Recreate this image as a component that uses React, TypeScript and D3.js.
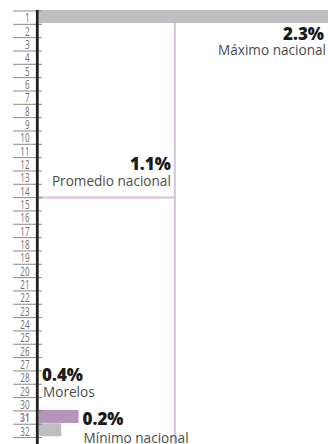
import React from "react";
import * as d3 from "d3";

const ranks = ["1","2","3","4","5","6","7","8","9","10","11","12","13","14","15","16","17","18","19","20","21","22","23","24","25","26","27","28","29","30","31","32"];
const barRanks = ["1", "31", "32"];
const barValues = [2.34, 0.32, 0.18];
const barKinds = ["max", "state", "min"];
const nationalAverage = 1.1;
const averageRank = "14";
const highlightRank = "31";
const maxLabel = ["2.3%", "Máximo nacional"];
const avgLabel = ["1.1%", "Promedio nacional"];
const stateLabel = ["0.4%", "Morelos"];
const minLabel = ["0.2%", "Mínimo nacional"];

const W = 328;
const H = 444;
const GRAY = "#bfbfc1";
const PURPLE = "#b595b9";
const AVG = "#dcc8df";
const FONT = "'Open Sans', 'Noto Sans', sans-serif";

export default function App() {
  const x = d3.scaleLinear().domain([0, d3.max(barValues) as number]).range([39, W]);
  const y = d3.scaleBand<string>().domain(ranks).range([10, 10 + 32 * 13.33]).paddingInner(0);
  const bw = y.bandwidth();
  const avgX = x(nationalAverage);
  const avgY = (y(averageRank) as number) + bw + 1;
  const bars = barRanks.map((r, i) => ({ r, v: barValues[i], k: barKinds[i] }));
  const stateBarEnd = x(barValues[1]);

  return (
    <svg width={W} height={H} style={{ position: "fixed", left: 0, top: 0, background: "#fff" }}>
      {/* average lines */}
      <line x1={avgX} x2={avgX} y1={y("1") as number} y2={H} stroke={AVG} strokeWidth={2.2} />
      <line x1={39} x2={avgX + 1} y1={avgY} y2={avgY} stroke={AVG} strokeWidth={2.5} />
      {/* bars */}
      {bars.map((b) => (
        <rect key={b.r} x={x(0)} y={y(b.r) as number} width={x(b.v) - x(0)} height={bw - 0.3}
          fill={b.k === "state" ? PURPLE : GRAY} />
      ))}
      {/* tick lines */}
      {ranks.concat(["end"]).map((r, i) => {
        const yy = 10 + i * bw + 1;
        return <line key={"t" + i} x1={13} x2={42} y1={yy} y2={yy} stroke="#8a8a8a" strokeWidth={1} />;
      })}
      {/* rank labels */}
      {ranks.map((r) => {
        const yy = (y(r) as number) + bw - 1;
        const hl = r === highlightRank;
        return (
          <text key={"l" + r} transform={`translate(29.5,${yy}) scale(0.62,1)`} textAnchor="end"
            fontFamily={FONT} fontSize={13} fontWeight={hl ? 700 : 400} fill={hl ? "#a07aa6" : "#707070"}>
            {r}
          </text>
        );
      })}
      {/* axis */}
      <line x1={37.3} x2={37.3} y1={10} y2={H} stroke="#231f20" strokeWidth={2.8} />
      {/* annotations */}
      <text x={324} y={40} textAnchor="end" fontFamily={FONT} fontSize={17} fontWeight={800} fill="#1a1a1a">{maxLabel[0]}</text>
      <text x={326} y={55} textAnchor="end" fontFamily={FONT} fontSize={13.6} fill="#4d4d4d">{maxLabel[1]}</text>
      <text x={avgX - 4} y={170} textAnchor="end" fontFamily={FONT} fontSize={17} fontWeight={800} fill="#1a1a1a">{avgLabel[0]}</text>
      <text x={avgX - 4} y={186} textAnchor="end" fontFamily={FONT} fontSize={13.6} fill="#4d4d4d">{avgLabel[1]}</text>
      <text x={42} y={381} fontFamily={FONT} fontSize={17} fontWeight={800} fill="#1a1a1a">{stateLabel[0]}</text>
      <text x={43} y={397} fontFamily={FONT} fontSize={13.6} fill="#4d4d4d">{stateLabel[1]}</text>
      <text x={stateBarEnd + 4} y={425} fontFamily={FONT} fontSize={17} fontWeight={800} fill="#1a1a1a">{minLabel[0]}</text>
      <text x={stateBarEnd + 5} y={443} fontFamily={FONT} fontSize={13.6} fill="#4d4d4d">{minLabel[1]}</text>
    </svg>
  );
}
